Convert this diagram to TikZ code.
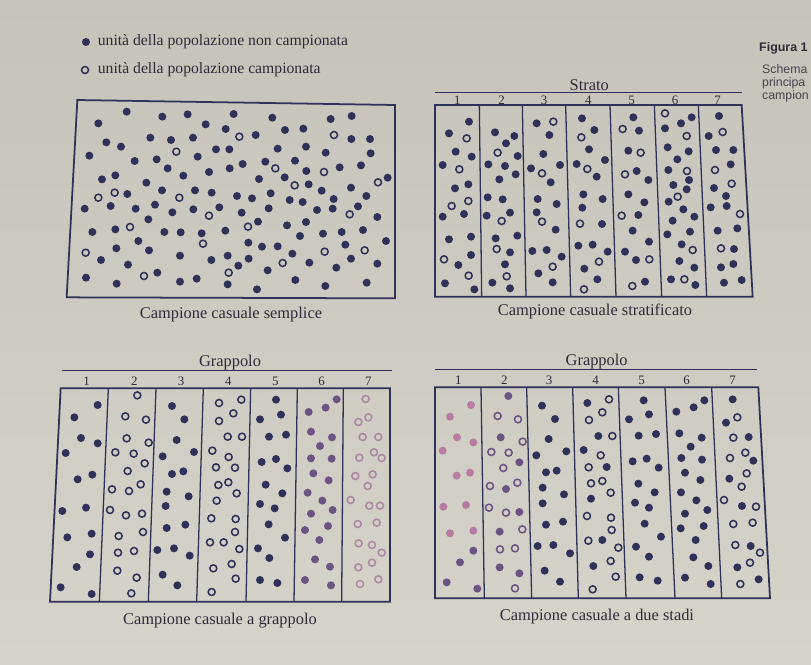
\documentclass[tikz,border=0pt]{standalone}
\usepackage{fontspec}
\setmainfont{Liberation Serif}
\setsansfont{Liberation Sans}
\usetikzlibrary{positioning}

\definecolor{paperTop}{RGB}{198,195,186}
\definecolor{paperBot}{RGB}{214,211,203}
\definecolor{ink}{RGB}{46,50,88}
\definecolor{inkfade}{RGB}{108,84,130}
\definecolor{inkpale}{RGB}{172,136,162}
\definecolor{inkpink}{RGB}{184,124,160}
\definecolor{txt}{RGB}{44,44,58}
\definecolor{sidetxt}{RGB}{68,68,78}

%% dots of one panel, in the panel's own frame
\newcommand{\fulldots}[2][ink]{\foreach \x/\y in {#2} \fill[#1] (\x,\y) circle (12);}
\newcommand{\opendots}[2][ink]{\foreach \x/\y in {#2} \draw[#1, line width=1.3pt] (\x,\y) circle (10.5);}

\begin{document}
\begin{tikzpicture}[
  x=0.03cm, y=-0.03cm,
  every node/.style={text=txt},
  caption/.style={font=\fontsize{14}{16}\selectfont, anchor=base},
  head/.style   ={font=\fontsize{14}{16}\selectfont, anchor=base},
  num/.style    ={font=\fontsize{11}{13}\selectfont, anchor=base, inner sep=0pt},
  legtext/.style={font=\fontsize{13.4}{15}\selectfont, inner sep=0pt, anchor=west},
  fmark/.style  ={circle, fill=ink, inner sep=0pt, minimum size=0.24cm},
  omark/.style  ={circle, draw=ink, line width=1.3pt, inner sep=0pt, minimum size=0.21cm},
  frame/.style  ={draw=ink, line width=1.5pt, line join=miter},
  sep/.style    ={draw=ink, line width=1.1pt},
  rule/.style   ={draw=ink, line width=1pt},
  side/.style   ={font=\sffamily\fontsize{10.5}{12}\selectfont, anchor=base west,
                  inner sep=0pt, text=sidetxt}]

\useasboundingbox (0,0) rectangle (811,664);
\clip (0,0) rectangle (811,664);
\shade[top color=paperTop, bottom color=paperBot] (0,0) rectangle (811,664);

%% legend
\node[fmark] (legf) at (86,42) {};
\node[legtext, right=0.22cm of legf] (legfT) {unità della popolazione non campionata};
\node[omark] (lego) at (85,70) {};
\node[legtext, right=0.25cm of lego] (legoT) {unità della popolazione campionata};

%% side note at the page edge
\node[side, font=\sffamily\bfseries\fontsize{10.6}{12}\selectfont, text=txt] (fig) at (759,51) {Figura 1};
\node[side] (figA) at (762,73) {Schema};
\node[side] (figB) at (762,86) {principa};
\node[side] (figC) at (762,99) {campion};

%% campione casuale semplice
\begin{scope}[shift={(60,90)}, scale=1/3]
  \draw[frame] (52,30) -- (1005,45) -- (1005,625) -- (20,622) -- cycle;
  \fulldots{200/65, 115/100, 307/80, 383/73, 437/103, 521/72, 497/117, 637/83, 675/120,
    730/116, 812/87, 875/78, 587/135, 874/147, 930/147,
    139/157, 183/170, 271/143, 333/150, 399/143, 468/178, 508/178, 653/176, 738/170,
    797/188, 932/190, 88/197, 224/213, 290/208, 413/200, 323/235, 447/246, 509/235,
    548/222, 616/215, 705/212, 739/243, 839/232, 903/226,
    126/268, 166/256, 259/278, 370/257, 597/267, 674/262, 746/283, 983/263,
    202/312, 306/301, 405/301, 455/308, 531/318, 576/325, 632/310, 689/330, 728/336,
    785/302, 821/327, 873/293, 919/318,
    74/356, 152/348, 227/356, 285/344, 337/367, 400/358, 478/352, 545/368, 626/355,
    771/360, 818/356, 894/349, 952/381,
    97/426, 166/418, 265/388, 313/426, 362/427, 425/430, 496/422, 594/395, 681/406,
    738/396, 720/438, 789/431, 845/426, 909/420,
    235/453, 565/458, 606/470, 653/469, 856/464, 978/453,
    123/510, 169/475, 267/481, 360/497, 454/510, 503/497, 566/506, 697/491, 873/506, 952/521,
    204/524, 535/527, 748/518, 829/533, 623/541,
    78/563, 170/581, 292/548, 360/575, 410/566, 503/583, 591/598, 706/570, 796/588, 920/578}
  \opendots{538/140, 822/135, 349/185, 646/235, 792/246, 704/286, 954/277, 115/323,
    164/308, 358/323, 447/377, 869/373, 210/411, 564/410, 429/461, 77/488, 794/485,
    914/481, 668/519, 252/558, 506/548}
\end{scope}
\node[caption] (capSimple) at (231,318) {Campione casuale semplice};

%% campione casuale stratificato
\begin{scope}[shift={(420,70)}, scale=1/3]
  \node[head] (strato) at (508,60) {Strato};
  \draw[rule] (45,68) -- (965,68);
  \foreach \n/\xx in {1/112, 2/245, 3/372, 4/505, 5/635, 6/765, 7/893}
    \node[num] (s\n) at (\xx,102) {\n};
  \draw[frame] (45,105) -- (965,105) -- (998,680) -- (45,680) -- cycle;
  \foreach \t/\b in {178/185, 307/318, 437/452, 570/588, 703/725, 835/860}
    \draw[sep] (\t,105) -- (\b,680);
  \fulldots{147/155, 87/190, 107/245, 155/260, 68/285, 105/355, 145/343, 132/432, 68/440,
    87/508, 153/500, 153/555, 115/585, 75/640, 163/658,
    225/187, 283/198, 258/220, 293/258, 205/283, 255/288, 287/313, 238/328, 203/382,
    248/388, 270/428, 200/437, 292/497, 227/505, 270/547, 255/583, 217/638, 270/655,
    350/160, 388/195, 370/252, 333/295, 420/285, 392/337, 353/387, 410/402, 350/427,
    407/479, 337/543, 380/540, 425/560, 355/610, 398/637,
    486/145, 523/180, 507/238, 555/270, 470/282, 530/320, 490/373, 548/387, 487/413,
    546/462, 475/527, 518/524, 563/545, 493/596, 532/628,
    640/142, 657/182, 625/242, 650/303, 685/330, 625/373, 673/397, 655/435, 638/482,
    687/515, 615/545, 648/570, 675/635,
    783/160, 815/142, 735/175, 743/232, 806/244, 772/268, 745/300, 807/330, 760/345,
    800/358, 746/395, 790/418, 823/440, 758/452, 810/485, 742/493, 785/523, 778/573,
    823/593, 753/628, 826/645,
    897/138, 866/198, 888/240, 940/240, 932/283, 882/354, 918/378, 872/412, 920/408,
    893/482, 952/475, 942/537, 903/592, 940/582, 912/638, 965/630}
  \opendots{140/205, 118/298, 145/393, 95/408, 72/568, 146/617,
    233/248, 245/453, 230/537, 260/619,
    400/155, 366/310, 366/455, 398/590,
    484/202, 502/297, 480/461, 537/575, 492/658,
    608/177, 662/248, 615/313, 605/437, 688/568, 637/648,
    735/130, 800/198, 801/303, 773/380, 818/540, 793/628,
    908/186, 885/300, 935/341, 960/432, 903/535}
\end{scope}
\node[caption] (capStrat) at (595,315) {Campione casuale stratificato};

%% campione casuale a grappolo
\begin{scope}[shift={(40,330)}, scale=1/3]
  \node[head] (grappoloA) at (570,110) {Grappolo};
  \draw[rule] (65,122) -- (1055,122);
  \foreach \n/\xx in {1/140, 2/283, 3/423, 4/565, 5/706, 6/845, 7/985}
    \node[num] (a\n) at (\xx,166) {\n};
  \draw[frame] (62,175) -- (1050,175) -- (1050,815) -- (30,815) -- cycle;
  \foreach \t/\b in {205/178, 348/325, 490/470, 632/618, 772/762, 910/905}
    \draw[sep] (\t,175) -- (\b,815);
  \fulldots{173/225, 103/262, 123/324, 173/340, 77/369, 113/448, 157/434, 67/543, 138/533,
    82/622, 155/611, 150/673, 110/711, 62/772, 155/792,
    396/228, 433/268, 410/330, 368/379, 462/366, 396/432, 430/424, 380/485, 446/499,
    377/528, 380/594, 436/584, 352/660, 402/655, 449/677, 368/734, 412/766,
    708/209, 660/268, 723/254, 687/320, 738/314, 665/396, 708/387, 742/415, 677/464,
    727/490, 660/522, 704/535, 686/583, 735/623, 654/655, 688/684, 660/750, 712/759}
  \fulldots[inkfade]{890/208, 857/233, 806/246, 813/305, 876/322, 840/348, 813/385,
    875/386, 820/430, 866/451, 803/488, 847/512, 878/540, 813/551, 864/588, 795/600,
    838/630, 825/688, 870/710, 795/750, 873/766}
  \opendots{292/196, 256/259, 318/269, 260/325, 326/338, 226/367, 281/371, 314/400,
    263/423, 216/478, 267/483, 302/463, 210/540, 258/556, 306/551, 236/618, 309/606,
    234/668, 282/663, 232/722, 290/743, 274/790,
    537/219, 604/209, 580/250, 537/273, 563/320, 606/320, 517/362, 566/381, 528/412,
    585/413, 535/465, 565/457, 590/490, 530/512, 514/565, 587/567, 585/606, 510/637,
    551/637, 598/657, 520/715, 575/702, 587/746, 515/786}
  \opendots[inkpale]{977/207, 985/262, 955/276, 968/321, 1015/321, 958/383, 1002/367,
    1025/384, 946/438, 998/433, 983/468, 932/510, 988/527, 1020/527, 953/582, 1010/578,
    956/640, 996/645, 1025/668, 955/712, 996/698, 960/762, 1015/748}
\end{scope}
\node[caption] (capCluster) at (220,624) {Campione casuale a grappolo};

%% campione casuale a due stadi
\begin{scope}[shift={(420,330)}, scale=1/3]
  \node[head] (grappoloB) at (530,105) {Grappolo};
  \draw[rule] (45,118) -- (1010,118);
  \foreach \n/\xx in {1/115, 2/253, 3/387, 4/527, 5/665, 6/800, 7/938}
    \node[num] (b\n) at (\xx,163) {\n};
  \draw[frame] (45,172) -- (1015,172) -- (1050,805) -- (45,805) -- cycle;
  \foreach \t/\b in {183/193, 320/335, 458/475, 595/618, 735/765, 875/905}
    \draw[sep] (\t,172) -- (\b,805);
  \fulldots[inkpink]{153/225, 90/260, 111/322, 160/337, 68/362, 110/437, 150/428,
    70/530, 138/525, 90/610, 160/602}
  \fulldots[inkfade]{160/662, 120/697, 80/757, 172/776,
    265/198, 242/322, 298/397, 258/477, 298/546, 239/605, 239/712, 298/730}
  \opendots[inkfade]{233/258, 294/268, 308/335, 214/366, 266/368, 250/414, 210/468,
    292/458, 207/533, 258/548, 307/598, 240/658, 285/655, 285/775}
  \fulldots{366/227, 405/267, 386/327, 349/376, 439/364, 378/427, 410/422, 368/473,
    432/493, 368/520, 378/584, 429/575, 353/648, 400/645, 450/670, 374/722, 420/755,
    502/219, 535/318, 491/360, 560/411, 513/506, 547/630, 520/708,
    671/211, 627/268, 687/253, 656/317, 708/312, 638/394, 680/386, 716/413, 655/461,
    704/487, 645/518, 687/533, 674/581, 723/620, 648/650, 687/680, 659/742, 713/752,
    853/211, 821/232, 769/245, 778/310, 845/323, 812/350, 784/384, 846/389, 795/428,
    841/450, 783/487, 829/511, 862/540, 795/551, 851/588, 782/595, 827/630, 820/682,
    865/708, 795/743, 872/762,
    938/208, 918/278, 986/321, 1000/392, 928/446, 966/528, 992/648, 952/712, 1016/748}
  \opendots{567/208, 547/247, 507/270, 577/318, 542/376, 506/412, 513/460, 547/453,
    572/488, 501/558, 573/563, 575/600, 505/632, 595/653, 572/693, 587/740, 518/778,
    952/262, 940/323, 930/384, 976/368, 980/430, 965/470, 912/510, 1008/530, 940/582,
    998/578, 946/645, 1020/668, 990/698, 961/762}
\end{scope}
\node[caption] (capTwo) at (597,620) {Campione casuale a due stadi};
\end{tikzpicture}
\end{document}
